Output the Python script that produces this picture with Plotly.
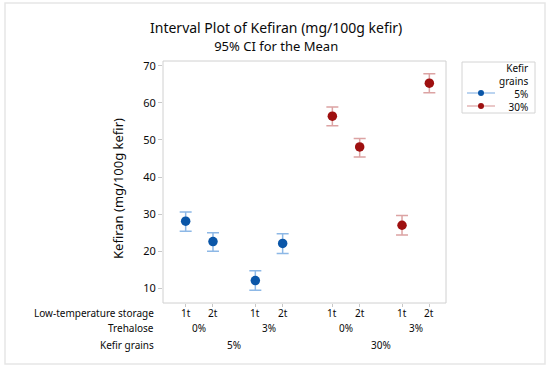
import plotly.graph_objects as go

# ---- data ----
kefir_grains = ["5%", "30%"]
trehalose = ["0%", "3%"]
storage = ["1t", "2t"]
mean_5 = [28.1, 22.6, 12.1, 22.1]
lo_5 = [25.4, 20.0, 9.5, 19.4]
hi_5 = [30.6, 25.0, 14.7, 24.7]
mean_30 = [56.4, 48.1, 27.0, 65.3]
lo_30 = [53.8, 45.4, 24.4, 62.7]
hi_30 = [58.9, 50.4, 29.6, 67.8]
y_ticks = [10, 20, 30, 40, 50, 60, 70]

FONT = "Noto Sans"
TXT = "#0a0a0a"
BLUE, BLUE_L = "#0a56a8", "#8db8e6"
RED, RED_L = "#9e1010", "#dca3a3"

# positions from group structure
def pos(k, t, s):
    g = k * 2 + t
    return g * 2.55 + s + (0.27 if k >= 1 else 0)

xs = {k: [pos(k, t, s) for t in range(2) for s in range(2)] for k in range(2)}

fig = go.Figure()
for k, (m, lo, hi, c, cl) in enumerate([(mean_5, lo_5, hi_5, BLUE, BLUE_L),
                                        (mean_30, lo_30, hi_30, RED, RED_L)]):
    fig.add_trace(go.Scatter(
        x=xs[k], y=m, mode="markers",
        marker=dict(color=c, size=9.5),
        error_y=dict(type="data", symmetric=False,
                     array=[h - v for h, v in zip(hi, m)],
                     arrayminus=[v - l for v, l in zip(m, lo)],
                     color=cl, thickness=1.5, width=6),
        showlegend=False, hoverinfo="skip"))

ann = []
L, W = 163, 283
def px(xpix):
    return (xpix - L) / W
def py(ypix):
    return (303 - ypix) / 242
row_y = [313, 328, 345]
FS = 10
for i, lab in enumerate(["Low-temperature storage", "Trehalose", "Kefir grains"]):
    ann.append(dict(x=px(155), y=py(row_y[i]), xref="paper", yref="paper", text=lab,
                    showarrow=False, xanchor="right", yanchor="middle", borderpad=0,
                    font=dict(family=FONT, size=FS, color=TXT)))
for k in range(2):
    for t in range(2):
        for s in range(2):
            ann.append(dict(x=pos(k, t, s), y=py(row_y[0]), xref="x", yref="paper", text=storage[s],
                            showarrow=False, yanchor="middle", borderpad=0,
                            font=dict(family=FONT, size=FS, color=TXT)))
        ann.append(dict(x=(pos(k, t, 0) + pos(k, t, 1)) / 2, y=py(row_y[1]), xref="x", yref="paper",
                        text=trehalose[t], showarrow=False, yanchor="middle", borderpad=0,
                        font=dict(family=FONT, size=FS, color=TXT)))
    ann.append(dict(x=(pos(k, 0, 0) + pos(k, 1, 1)) / 2, y=py(row_y[2]), xref="x", yref="paper",
                    text=kefir_grains[k], showarrow=False, yanchor="middle", borderpad=0,
                    font=dict(family=FONT, size=FS, color=TXT)))

# titles (one block)
ann.append(dict(x=px(276), y=py(36), xref="paper", yref="paper",
                text="Interval Plot of Kefiran (mg/100g kefir)<br><span style='font-size:13px'>95% CI for the Mean</span>",
                showarrow=False, yanchor="middle", borderpad=0, align="center",
                font=dict(family=FONT, size=14, color=TXT)))
ann.append(dict(x=px(118), y=py(189), xref="paper", yref="paper", text="Kefiran (mg/100g kefir)",
                showarrow=False, textangle=-90, xanchor="center", yanchor="middle",
                font=dict(family=FONT, size=13, color=TXT)))

# legend (manual)
ann.append(dict(x=px(529), y=py(60), xref="paper", yref="paper",
                text="Kefir<br>grains<br>" + "<br>".join(kefir_grains), showarrow=False,
                xanchor="right", yanchor="top", align="right", borderpad=0,
                font=dict(family=FONT, size=10, color=TXT)))
shapes = []
for y, c, cl in [(93, BLUE, BLUE_L), (106, RED, RED_L)]:
    shapes.append(dict(type="line", xref="paper", yref="paper", x0=px(467), x1=px(495),
                       y0=py(y), y1=py(y), line=dict(color=cl, width=1.2)))
    shapes.append(dict(type="circle", xref="paper", yref="paper", x0=px(478), x1=px(484),
                       y0=py(y + 3), y1=py(y - 3), fillcolor=c, line=dict(color=c, width=0)))
shapes.append(dict(type="rect", xref="paper", yref="paper", x0=px(462), x1=px(535),
                   y0=py(113), y1=py(62), line=dict(color="#d4d4d4", width=1)))
shapes.append(dict(type="rect", xref="paper", yref="paper", x0=0, x1=1, y0=0, y1=1,
                   line=dict(color="#d0d0d0", width=1)))
shapes.append(dict(type="rect", xref="paper", yref="paper", x0=px(5), x1=px(545),
                   y0=py(364), y1=py(3), line=dict(color="#e6e6e6", width=1.5)))

fig.update_layout(
    width=550, height=368,
    margin=dict(l=163, r=550 - 163 - W, t=61, b=368 - 303, pad=0),
    paper_bgcolor="white", plot_bgcolor="white",
    annotations=ann, shapes=shapes,
    xaxis=dict(range=[-0.83, 9.53], showgrid=False, zeroline=False, showticklabels=False,
               tickvals=xs[0] + xs[1], ticks="outside", ticklen=3, tickcolor="#c8c8c8",
               showline=False, fixedrange=True),
    yaxis=dict(range=[6.04, 71.27], showgrid=False, zeroline=False, tickvals=y_ticks,
               ticks="outside", ticklen=4, tickcolor="#c8c8c8",
               tickfont=dict(family=FONT, size=11, color=TXT), showline=False, fixedrange=True),
)
fig.write_html("out.html", config={"displayModeBar": False})
with open("out.html", encoding="utf-8") as f:
    html = f.read()
html = html.replace("<body>", '<body style="margin:0;padding:0;overflow:hidden">', 1)
with open("out.html", "w", encoding="utf-8") as f:
    f.write(html)
